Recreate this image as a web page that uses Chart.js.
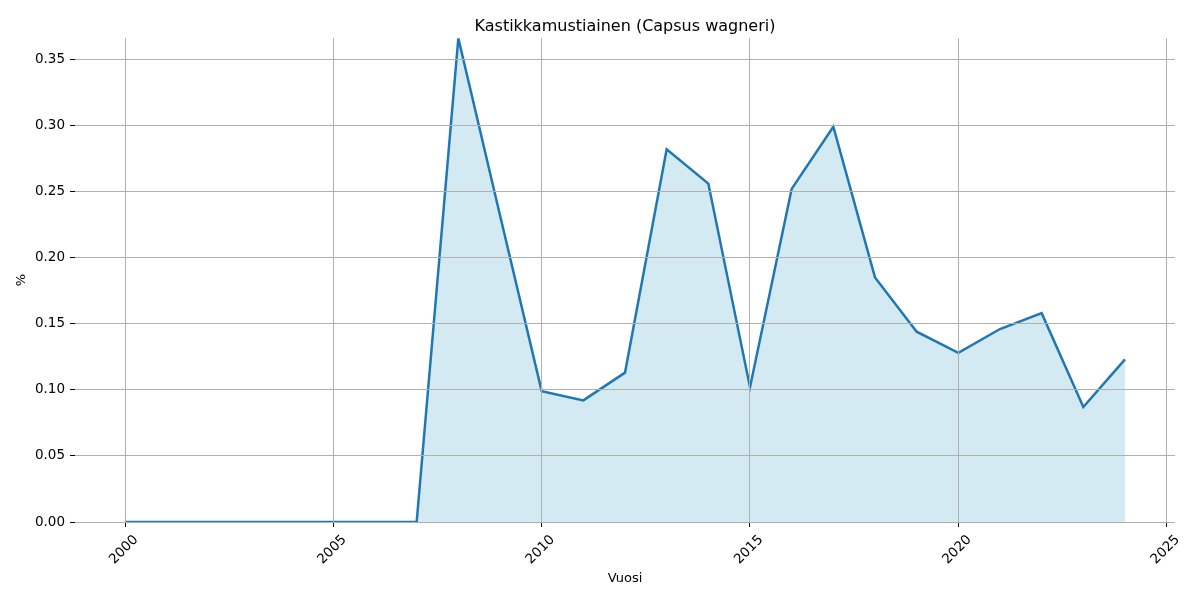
<!DOCTYPE html>
<html>
<head>
<meta charset="utf-8">
<script src="https://cdn.jsdelivr.net/npm/chart.js@4/dist/chart.umd.min.js"></script>
<style>
  html, body { margin: 0; padding: 0; background: #fff; }
  #wrap { width: 1200px; height: 600px; }
</style>
</head>
<body>
<div id="wrap"><canvas id="mainChart" width="1200" height="600"></canvas></div>
<script>
// Data
var years = [2000, 2001, 2002, 2003, 2004, 2005, 2006, 2007, 2008, 2009, 2010, 2011, 2012,
             2013, 2014, 2015, 2016, 2017, 2018, 2019, 2020, 2021, 2022, 2023, 2024];
var shares = [0, 0, 0, 0, 0, 0, 0, 0, 0.366, 0.232, 0.099, 0.092, 0.113,
              0.282, 0.256, 0.102, 0.252, 0.299, 0.185, 0.144, 0.128, 0.146, 0.158, 0.087, 0.123];
var xTicks = [2000, 2005, 2010, 2015, 2020, 2025];
var yTicks = [0, 0.05, 0.10, 0.15, 0.20, 0.25, 0.30, 0.35];

var chartTitle = 'Kastikkamustiainen (Capsus wagneri)';
var xTitle = 'Vuosi';
var yTitle = '%';

Chart.defaults.font.family = '"DejaVu Sans", sans-serif';
Chart.defaults.font.size = 13.5;
Chart.defaults.color = '#000';

var points = years.map(function(y, i) { return {x: y, y: shares[i]}; });

var gridColor = '#b0b0b0';

var chartContainer = document.getElementById('mainChart');
var chartOptions = {
    type: 'line',
    data: {
        datasets: [
            {
                label: chartTitle,
                data: points,
                borderColor: '#1f77b4',
                borderWidth: 2.5,
                backgroundColor: 'rgba(173, 216, 230, 0.53)',
                fill: 'origin',
                pointRadius: 0,
                tension: 0,
                clip: 0
            }
        ]
    },
    options: {
        responsive: false,
        animation: false,
        layout: { padding: { left: 0, right: 25, top: 0, bottom: 0 } },
        plugins: {
            legend: { display: false },
            tooltip: { enabled: false },
            title: {
                display: true,
                fullSize: false,
                text: chartTitle,
                color: '#000',
                font: { size: 16, weight: 'normal', lineHeight: 1.2 },
                padding: { top: 17, bottom: 2 }
            }
        },
        scales: {
            x: {
                type: 'linear',
                min: 1998.8,
                max: 2025.2,
                border: { display: false },
                grid: { color: gridColor, lineWidth: 1, tickColor: '#000', tickLength: 5, z: 1 },
                afterBuildTicks: function(scale) {
                    scale.ticks = xTicks.map(function(v) { return {value: v}; });
                },
                afterFit: function(scale) { scale.height = 78; },
                ticks: {
                    minRotation: 45,
                    maxRotation: 45,
                    padding: 5,
                    labelOffset: 11,
                    color: '#000',
                    callback: function(v) { return String(v); }
                },
                title: {
                    display: true,
                    text: xTitle,
                    color: '#000',
                    font: { size: 13 },
                    padding: { top: 0, bottom: 14 }
                }
            },
            y: {
                min: 0,
                max: 0.366,
                border: { display: false },
                grid: { color: gridColor, lineWidth: 1, tickColor: '#000', tickLength: 5, z: 1 },
                afterBuildTicks: function(scale) {
                    scale.ticks = yTicks.map(function(v) { return {value: v}; });
                },
                afterFit: function(scale) { scale.width = 75; },
                ticks: {
                    padding: 5,
                    color: '#000',
                    callback: function(v) { return v.toFixed(2); }
                },
                title: {
                    display: true,
                    text: yTitle,
                    color: '#000',
                    font: { size: 13 },
                    padding: { top: 14, bottom: 0 }
                }
            }
        }
    }
};
var mainChart = new Chart(chartContainer, chartOptions);
</script>
</body>
</html>
